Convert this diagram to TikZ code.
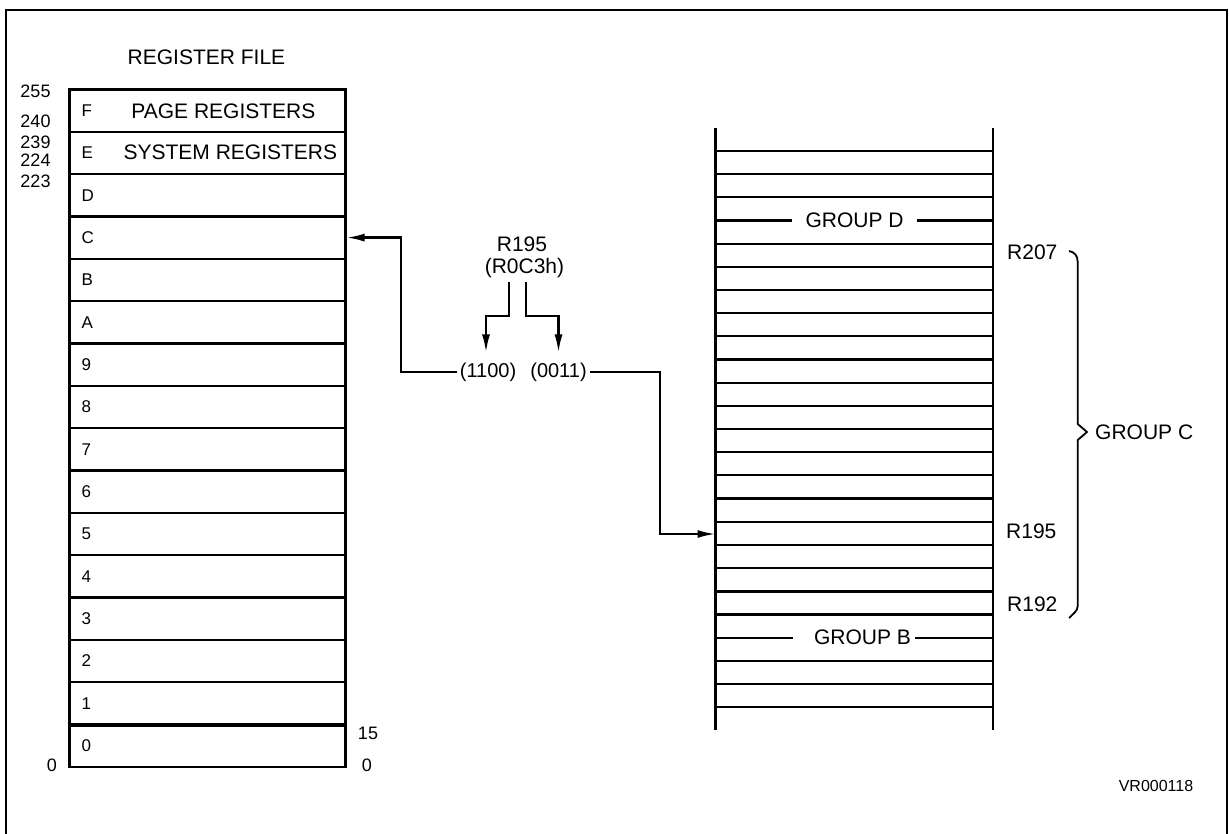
\documentclass[tikz,border=0pt]{standalone}
\usepackage{fontspec}
\setmainfont{Liberation Sans}
\usetikzlibrary{arrows.meta}
\begin{document}
\begin{tikzpicture}[x=1pt,y=-1pt,
  every node/.style={inner sep=0pt, font=\fontsize{21}{24}\selectfont},
  ln/.style={line width=2.2pt},
  thickln/.style={line width=3pt},
  regrow/.style={draw, line width=2.2pt, minimum width=276pt, minimum height=42.34pt, anchor=north west},
  num/.style={font=\fontsize{18}{20}\selectfont},
  rowlab/.style={font=\fontsize{17}{20}\selectfont, anchor=west},
  code/.style={font=\fontsize{20}{22}\selectfont, inner xsep=3pt},
  rlab/.style={anchor=west},
  arr/.style={line width=2.2pt, -{Latex[length=18pt,width=8pt]}},
  ]
\useasboundingbox (0,0) rectangle (1229,833);
% frame
\draw[line width=2.4pt] (6,840) -- (6,10) -- (1227,10) -- (1227,840);

% title
\node (title) at (206.5,57.7) {REGISTER FILE};

% register file rows
\foreach \i/\l in {0/0,1/1,2/2,3/3,4/4,5/5,6/6,7/7,8/8,9/9,10/A,11/B,12/C,13/D,14/E,15/F}{
  \node[regrow] (row\i) at (68.3,{88.3+(15-\i)*42.34}) {};
  \node[rowlab] (lab\i) at ([xshift=13pt]row\i.west) {\l};
}
\draw[thickln] (row1.south west) -- (row1.south east);
\node (page) at ([xshift=16pt,yshift=-0.5pt]row15.center) {PAGE REGISTERS};
\node (sys) at ([xshift=23pt,yshift=1pt]row14.center) {SYSTEM REGISTERS};

% address numbers
\node[num] (n255) at (35.5,91) {255};
\node[num] (n240) at (35.5,121) {240};
\node[num] (n239) at (35.5,142.5) {239};
\node[num] (n224) at (35.5,160) {224};
\node[num] (n223) at (35.5,181.5) {223};
\node[num] (n0l) at (52,765.5) {0};
\node[num] (n15) at (368,733) {15};
\node[num] (n0r) at (367,765.5) {0};

% right register table
\coordinate (tl) at (715.5,128);
\coordinate (bl) at (715.5,730);
\coordinate (tr) at (993,128);
\coordinate (br) at (993,730);
\draw[ln] (tl) -- (bl);
\draw[ln] (tr) -- (br);
\foreach \k in {0,1,2,4,5,6,7,8,9,10,11,12,13,14,16,17,18,20,22,23,24}
  \draw[ln] (715.5,{151+\k*23.17}) -- (993,{151+\k*23.17});
\foreach \k in {15,19}
  \draw[thickln] (715.5,{151+\k*23.17}) -- (993,{151+\k*23.17});

\node (gd) at (854.5,220.5) {GROUP D};
\draw[ln] (715.5,220.5) -- ([xshift=-13pt]gd.west);
\draw[ln] ([xshift=13pt]gd.east) -- (993,220.5);
\node (gb) at (862.5,637.6) {GROUP B};
\draw[ln] (715.5,637.6) -- ([xshift=-21pt]gb.west);
\draw[ln] ([xshift=4pt]gb.east) -- (993,637.6);

\coordinate (r195) at (715.5,534);

% register labels on the right
\node[rlab] (l207) at (1007,252) {R207};
\node[rlab] (l195) at (1006,531) {R195};
\node[rlab] (l192) at (1007,604) {R192};

% brace
\draw[line width=1.8pt, line join=round] (1069,251) .. controls (1074,252) and (1077.7,255) .. (1077.7,262)
  -- (1077.7,424) -- (1087,432) -- (1077.7,440) -- (1077.7,606)
  .. controls (1077.7,611) and (1073,614) .. (1069,618);
\node[rlab] (gc) at (1095,432) {GROUP C};

% address decode
\node (r195t) at (522,244.5) {R195};
\node (hex) at (524.5,268) {(R0C3h)};
\node[code] (b1100) at (488,372) {(1100)};
\node[code] (b0011) at (558.5,372) {(0011)};

\draw[arr] ([xshift=-15.5pt,yshift=-4pt]hex.south) -- ++(0,34) -| ([xshift=-2pt,yshift=10pt]b1100.north);
\draw[arr] ([xshift=1.5pt,yshift=-4pt]hex.south) -- ++(0,34) -| ([yshift=10pt]b0011.north);
\draw[arr] (b1100.west) -- ++(-56,0) |- (row12.east);
\draw[arr] (b0011.east) -- ++(70,0) |- (r195);

\node[font=\fontsize{16}{18}\selectfont] (vr) at (1156,786) {VR000118};
\end{tikzpicture}
\end{document}
